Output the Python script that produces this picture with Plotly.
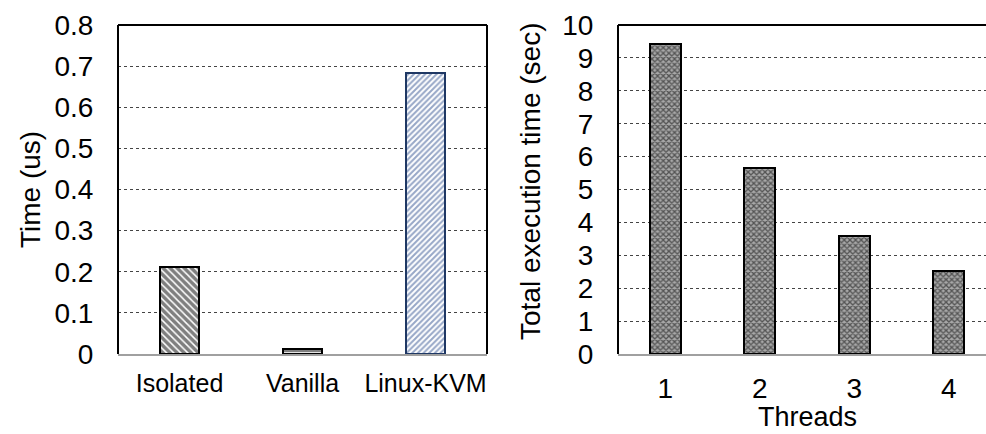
import plotly.graph_objects as go

# ---- data ----
left_categories = ["Isolated", "Vanilla", "Linux-KVM"]
left_values = [0.212, 0.012, 0.683]
left_yticks = [0, 0.1, 0.2, 0.3, 0.4, 0.5, 0.6, 0.7, 0.8]
left_yticklabels = ["0", "0.1", "0.2", "0.3", "0.4", "0.5", "0.6", "0.7", "0.8"]

right_categories = ["1", "2", "3", "4"]
right_values = [9.42, 5.65, 3.59, 2.52]
right_yticks = [0, 1, 2, 3, 4, 5, 6, 7, 8, 9, 10]

W, H = 986, 434
FONT = "Liberation Sans, Arial, Helvetica, sans-serif"

# pixel geometry
L1, R1 = 118, 487
L2, R2 = 618, 986
TOP, BOT = 25, 354

fig = go.Figure()

left_patterns = [
    dict(shape="\\", fgcolor="black", bgcolor="white", size=5, solidity=0.7),
    dict(shape="-", fgcolor="black", bgcolor="white", size=4, solidity=0.6),
    dict(shape="/", fgcolor="#2f4f8f", bgcolor="white", size=4, solidity=0.5),
]
left_lines = ["black", "black", "#1f3864"]

for cat, val, pat, lc in zip(left_categories, left_values, left_patterns, left_lines):
    fig.add_trace(go.Bar(
        x=[cat], y=[val], width=0.32,
        marker=dict(color="white", pattern=pat, line=dict(color=lc, width=2)),
        xaxis="x", yaxis="y", showlegend=False,
    ))

fig.add_trace(go.Bar(
    x=right_categories, y=right_values, width=0.33,
    marker=dict(color="#9a9a9a",
                pattern=dict(shape="x", fgcolor="black", bgcolor="#a8a8a8", size=4, solidity=0.55),
                line=dict(color="black", width=2)),
    xaxis="x2", yaxis="y2", showlegend=False,
))

ydom = [1 - BOT / H, 1 - TOP / H]

fig.update_layout(
    width=W, height=H,
    margin=dict(l=0, r=0, t=0, b=0),
    paper_bgcolor="white", plot_bgcolor="white",
    font=dict(family=FONT, color="black"),
    bargap=0,
    xaxis=dict(domain=[L1 / W, R1 / W], type="category", range=[-0.5, 2.5],
               categoryorder="array", categoryarray=left_categories,
               showline=True, linecolor="#a0a0a0", linewidth=2, automargin=False,
               tickfont=dict(size=25), ticks="outside", ticklen=6,
               tickcolor="rgba(0,0,0,0)", showgrid=False, zeroline=False),
    yaxis=dict(domain=ydom, range=[0, 0.8], tickvals=left_yticks, ticktext=left_yticklabels,
               tickfont=dict(size=28), showgrid=True, gridcolor="#444", griddash="dot",
               gridwidth=1, zeroline=False, ticks="outside", ticklen=18, automargin=False,
               tickcolor="rgba(0,0,0,0)", showline=False),
    xaxis2=dict(domain=[L2 / W, R2 / W], type="category", range=[-0.5, 3.394],
                categoryorder="array", categoryarray=right_categories,
                showline=True, linecolor="#a0a0a0", linewidth=2, automargin=False,
                tickfont=dict(size=28), ticks="outside", ticklen=8,
                tickcolor="rgba(0,0,0,0)", showgrid=False, zeroline=False, anchor="y2"),
    yaxis2=dict(domain=ydom, range=[0, 10], tickvals=right_yticks, anchor="x2",
                tickfont=dict(size=28), showgrid=True, gridcolor="#444", griddash="dot",
                gridwidth=1, zeroline=False, ticks="outside", ticklen=18, automargin=False,
                tickcolor="rgba(0,0,0,0)", showline=False),
)

# borders (left, top, right in black)
shapes = []
for xr, yr, sides in [("x domain", "y domain", ["l", "t", "r"]), ("x2 domain", "y2 domain", ["l", "t"])]:
    for s in sides:
        if s == "l":
            c = dict(x0=0, x1=0, y0=0, y1=1)
        elif s == "r":
            c = dict(x0=1, x1=1, y0=0, y1=1)
        else:
            c = dict(x0=0, x1=1, y0=1, y1=1)
        shapes.append(dict(type="line", xref=xr, yref=yr, line=dict(color="black", width=2), **c))
fig.update_layout(shapes=shapes)

fig.update_layout(annotations=[
    dict(text="Time (us)", xref="paper", yref="paper", x=30 / W, y=1 - 190 / H,
         textangle=-90, showarrow=False, font=dict(size=28), xanchor="center", yanchor="middle"),
    dict(text="Total execution time (sec)", xref="paper", yref="paper", x=530 / W, y=1 - 182 / H,
         textangle=-90, showarrow=False, font=dict(size=28), xanchor="center", yanchor="middle"),
    dict(text="Threads", xref="paper", yref="paper", x=807 / W, y=0,
         showarrow=False, font=dict(size=27), xanchor="center", yanchor="bottom"),
])

fig.write_html("out.html")
